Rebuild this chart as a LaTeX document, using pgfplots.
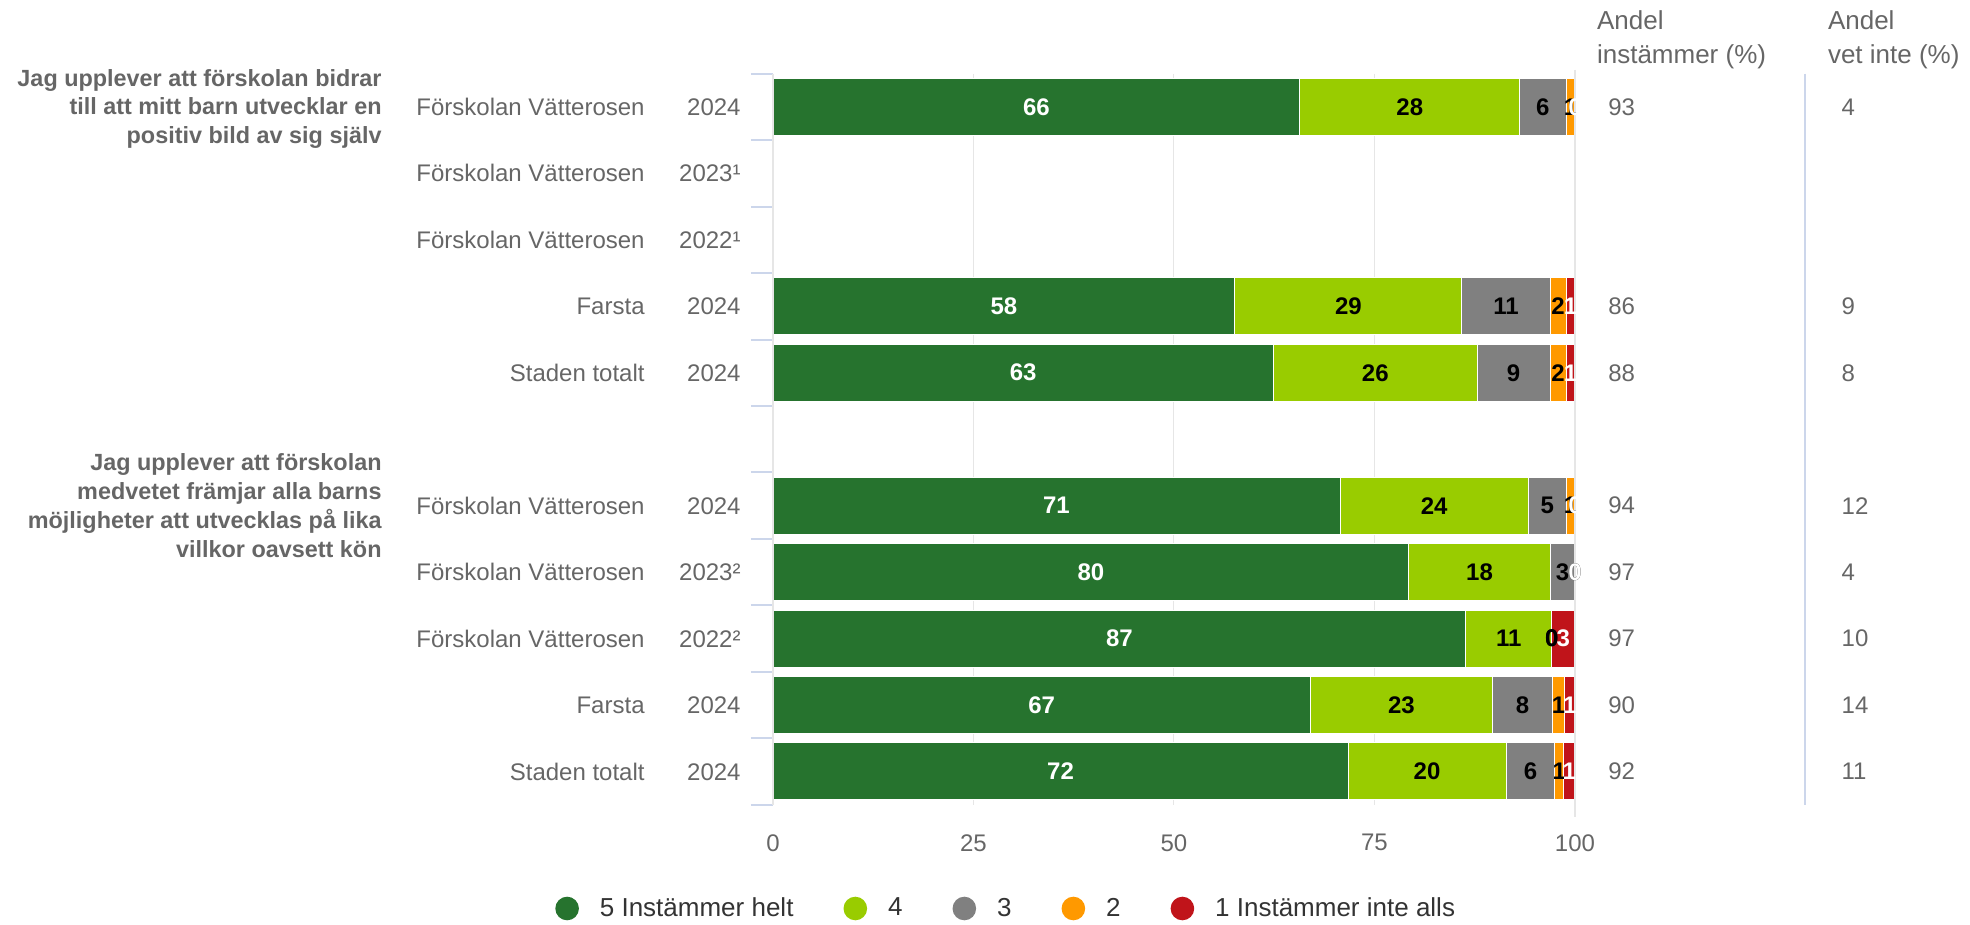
\documentclass[border=0pt]{standalone}
\usepackage{pgfplots}
\pgfplotsset{compat=1.18}
\usepackage{pgfplotstable}
\usepackage{fontspec}
\setmainfont{Liberation Sans}
\definecolor{c5}{HTML}{26732E}
\definecolor{c4}{HTML}{99CC00}
\definecolor{c3}{HTML}{808080}
\definecolor{c2}{HTML}{FF9900}
\definecolor{c1}{HTML}{C0141A}
\definecolor{txt}{HTML}{666666}
\definecolor{legc}{HTML}{333333}
\definecolor{gridc}{HTML}{E6E6E6}
\definecolor{tickc}{HTML}{CCD6EB}
\newcommand{\fs}{\fontsize{12bp}{14.5bp}\selectfont}
\newcommand{\fsb}{\fontsize{12bp}{14.5bp}\selectfont\bfseries}
\newcommand{\fq}{\fontsize{11.7bp}{14.4bp}\selectfont\bfseries}
\newcommand{\fl}{\fontsize{13bp}{15bp}\selectfont}
\newcommand{\fh}{\fontsize{13bp}{17bp}\selectfont}
\newcommand{\yl}[2]{#1\makebox[48bp][r]{#2}}

\pgfplotstableread{
y a b c d e
0 65.7 27.4 5.8 1.1 0.0
3 57.6 28.3 11.0 2.0 1.1
4 62.4 25.4 9.1 2.0 1.1
6 70.7 23.5 4.7 1.1 0.0
7 79.3 17.6 3.1 0.0 0.0
8 86.4 10.7 0.0 0.0 2.9
9 67.0 22.7 7.5 1.5 1.3
10 71.7 19.7 6.1 1.1 1.4
}\bars

\pgfplotstableread{
x y lab
79.4 0 28
96.0 0 6
99.45 0 1
71.75 3 29
91.4 3 11
97.9 3 2
75.1 4 26
92.35 4 9
97.9 4 2
82.45 6 24
96.55 6 5
99.45 6 1
88.1 7 18
98.45 7 3
100 7 0
91.75 8 11
97.1 8 0
97.1 8 0
78.35 9 23
93.45 9 8
97.95 9 1
81.55 10 20
94.45 10 6
98.05 10 1
}\darklab

\pgfplotstableread{
x y lab
32.85 0 66
100 0 0
28.8 3 58
99.45 3 1
31.2 4 63
99.45 4 1
35.35 6 71
100 6 0
39.65 7 80
100 7 0
43.2 8 87
98.55 8 3
33.5 9 67
99.35 9 1
35.85 10 72
99.3 10 1
}\whitelab

\pgfplotstableread{
y ins vet xi xv
0 93 4 104.1 133.2
3 86 9 104.1 133.2
4 88 8 104.1 133.2
6 94 12 104.1 133.2
7 97 4 104.1 133.2
8 97 10 104.1 133.2
9 90 14 104.1 133.2
10 92 11 104.1 133.2
}\sums

\begin{document}
\begin{tikzpicture}
\useasboundingbox (-386.5bp,-60.15bp) rectangle (598.5bp,402.35bp);
\begin{axis}[
  xbar stacked, bar width=28.5bp,
  scale only axis, width=401bp, height=365.5bp,
  xmin=0, xmax=100, ymin=-0.5, ymax=10.5, y dir=reverse,
  xtick={0,25,50,75,100}, ytick={0,...,10},
  yticklabels={\yl{Förskolan Vätterosen}{2024},\yl{Förskolan Vätterosen}{2023¹},\yl{Förskolan Vätterosen}{2022¹},\yl{Farsta}{2024},\yl{Staden totalt}{2024},{},\yl{Förskolan Vätterosen}{2024},\yl{Förskolan Vätterosen}{2023²},\yl{Förskolan Vätterosen}{2022²},\yl{Farsta}{2024},\yl{Staden totalt}{2024}},
  major tick length=0pt, axis line style={draw=none},
  xtick style={draw=none}, ytick style={draw=none},
  xmajorgrids, grid style={gridc, line width=0.5bp},
  tick label style={font=\fs, text=txt},
  xticklabel style={yshift=-11.3bp},
  yticklabel style={anchor=east, inner sep=0pt, xshift=-16bp},
  /pgf/number format/assume math mode=true,
  legend columns=5,
  legend style={at={(0.292,-0.142)}, anchor=center, draw=none, fill=none, font=\fl, text=legc,
    /tikz/every even column/.append style={column sep=23bp},
    /tikz/every odd column/.append style={column sep=8.5bp}},
  legend image code/.code={\fill[#1,draw=none] (0bp,0bp) circle (5.9bp);},
]
\addplot[fill=c5, draw=white, line width=0.5bp] table[x=a, y=y]{\bars};
\addplot[fill=c4, draw=white, line width=0.5bp] table[x=b, y=y]{\bars};
\addplot[fill=c3, draw=white, line width=0.5bp] table[x=c, y=y]{\bars};
\addplot[fill=c2, draw=white, line width=0.5bp] table[x=d, y=y]{\bars};
\addplot[fill=c1, draw=white, line width=0.5bp] table[x=e, y=y]{\bars};
\legend{5 Instämmer helt, 4, 3, 2, 1 Instämmer inte alls}
\end{axis}
\begin{axis}[
  scale only axis, width=401bp, height=365.5bp,
  xmin=0, xmax=100, ymin=-0.5, ymax=10.5, y dir=reverse, clip=false,
  axis x line=none, axis y line*=left, y axis line style={gridc, line width=1bp},
  ytick={-0.5,0.5,...,10.5}, yticklabels={}, tick align=outside, major tick length=11bp,
  ytick style={tickc, line width=1bp},
  nodes near coords, point meta=explicit symbolic,
  every node near coord/.append style={anchor=center, font=\fsb, inner sep=0pt},
]
\draw[gridc, line width=1bp] (axis cs:100,-0.56) -- (axis cs:100,10.69);
\draw[tickc, line width=1bp] (axis cs:128.7,-0.5) -- (axis cs:128.7,10.5);
\addplot[draw=none, every node near coord/.append style={text=black}] table[x=x, y=y, meta=lab]{\darklab};
\addplot[draw=none, every node near coord/.append style={text=white}] table[x=x, y=y, meta=lab]{\whitelab};
\addplot[draw=none, every node near coord/.append style={text=txt, font=\fs, anchor=west}] table[x=xi, y=y, meta=ins]{\sums};
\addplot[draw=none, every node near coord/.append style={text=txt, font=\fs, anchor=west}] table[x=xv, y=y, meta=vet]{\sums};
\node[anchor=east, align=right, inner sep=0pt, font=\fq, text=txt] at ([xshift=-195.5bp,yshift=-1bp]axis cs:0,0) {Jag upplever att förskolan bidrar\\till att mitt barn utvecklar en\\positiv bild av sig själv};
\node[anchor=east, align=right, inner sep=0pt, font=\fq, text=txt] at ([xshift=-195.5bp]axis cs:0,6) {Jag upplever att förskolan\\medvetet främjar alla barns\\möjligheter att utvecklas på lika\\villkor oavsett kön};
\node[anchor=west, align=left, inner sep=0pt, font=\fh, text=txt] at (axis cs:102.7,-1.013) {Andel\\instämmer (\%)};
\node[anchor=west, align=left, inner sep=0pt, font=\fh, text=txt] at (axis cs:131.5,-1.013) {Andel\\vet inte (\%)};
\end{axis}
\end{tikzpicture}
\end{document}
